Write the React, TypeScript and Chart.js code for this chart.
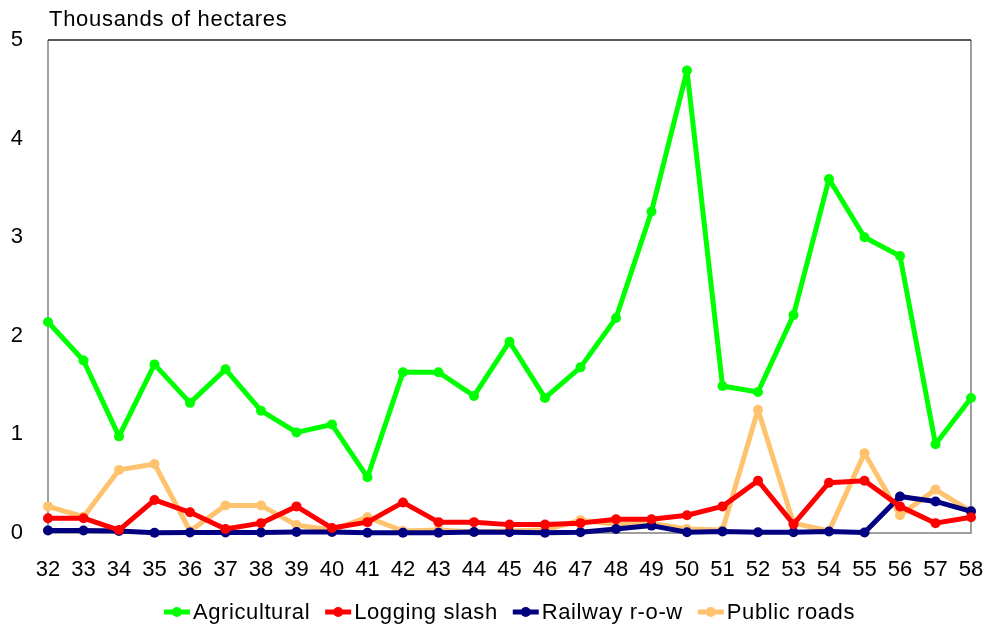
import React, { useEffect, useRef } from "react";
import { Chart, registerables } from "chart.js";

Chart.register(...registerables);

const years = ["32","33","34","35","36","37","38","39","40","41","42","43","44","45","46","47","48","49","50","51","52","53","54","55","56","57","58"];
const agricultural = [2.14,1.75,0.98,1.71,1.32,1.66,1.24,1.02,1.10,0.565,1.63,1.63,1.39,1.94,1.37,1.68,2.18,3.26,4.69,1.49,1.43,2.21,3.59,3.00,2.81,0.90,1.37];
const loggingSlash = [0.15,0.15,0.03,0.335,0.21,0.04,0.10,0.27,0.05,0.11,0.31,0.11,0.11,0.085,0.085,0.10,0.14,0.14,0.18,0.27,0.53,0.09,0.51,0.53,0.27,0.10,0.16];
const railway = [0.025,0.025,0.02,0.003,0.005,0.005,0.005,0.01,0.01,0.003,0.003,0.003,0.01,0.008,0.003,0.008,0.04,0.075,0.008,0.015,0.008,0.008,0.015,0.005,0.37,0.32,0.22];
const publicRoads = [0.27,0.165,0.64,0.70,0.02,0.28,0.28,0.08,0.03,0.16,0.02,0.03,0.01,0.02,0.03,0.13,0.09,0.10,0.04,0.03,1.25,0.10,0.02,0.81,0.18,0.44,0.22];
const yTicks = [0, 1, 2, 3, 4, 5];
const titleText = "Thousands of hectares";

const seriesNames = ["Agricultural", "Logging slash", "Railway r-o-w", "Public roads"];
const seriesColors = ["#00FF00", "#FF0000", "#000080", "#FFC370"];
const seriesData = [agricultural, loggingSlash, railway, publicRoads];

const FONT = "Arial, 'Liberation Sans', Helvetica, sans-serif";

const framePlugin = {
  id: "frameAndExtras",
  beforeDatasetsDraw(chart: any) {
    const { ctx, chartArea } = chart;
    const { left, right, top, bottom } = chartArea;
    ctx.save();
    ctx.lineWidth = 1.5;
    ctx.strokeStyle = "#808080";
    ctx.beginPath();
    ctx.moveTo(left, top);
    ctx.lineTo(left, bottom);
    ctx.lineTo(right, bottom);
    ctx.lineTo(right, top);
    ctx.stroke();
    ctx.strokeStyle = "#222222";
    ctx.beginPath();
    ctx.moveTo(left, top);
    ctx.lineTo(right, top);
    ctx.stroke();
    ctx.restore();
  },
  afterDraw(chart: any) {
    const { ctx, chartArea } = chart;
    ctx.save();
    ctx.font = `22px ${FONT}`;
    try { (ctx as any).letterSpacing = "0.7px"; } catch (e) {}
    ctx.fillStyle = "#000";
    ctx.textBaseline = "middle";
    ctx.textAlign = "left";
    ctx.fillText(titleText, chartArea.left + 1, 20);

    // legend
    try { (ctx as any).letterSpacing = "0.6px"; } catch (e) {}
    const lineLen = 26;
    const gapText = 3;
    const gapItem = 15;
    const widths = seriesNames.map((n) => lineLen + gapText + ctx.measureText(n).width);
    const total = widths.reduce((a, b) => a + b, 0) + gapItem * (seriesNames.length - 1);
    let x = (chartArea.left + chartArea.right) / 2 - total / 2;
    const y = 612;
    seriesNames.forEach((n, i) => {
      ctx.strokeStyle = seriesColors[i];
      ctx.fillStyle = seriesColors[i];
      ctx.lineWidth = 5;
      ctx.beginPath();
      ctx.moveTo(x, y);
      ctx.lineTo(x + lineLen, y);
      ctx.stroke();
      ctx.beginPath();
      ctx.arc(x + lineLen / 2, y, 5, 0, Math.PI * 2);
      ctx.fill();
      ctx.fillStyle = "#000";
      ctx.fillText(n, x + lineLen + gapText, y + 1);
      x += widths[i] + gapItem;
    });
    ctx.restore();
  },
};

export default function App() {
  const ref = useRef<HTMLCanvasElement | null>(null);
  useEffect(() => {
    if (!ref.current) return;
    const chart = new Chart(ref.current, {
      type: "line",
      data: {
        labels: years,
        datasets: seriesNames.map((name, i) => ({
          label: name,
          data: seriesData[i],
          borderColor: seriesColors[i],
          backgroundColor: seriesColors[i],
          borderWidth: 5,
          borderJoinStyle: "round" as any,
          borderCapStyle: "round" as any,
          pointRadius: 5,
          pointBorderWidth: 0,
          pointBackgroundColor: seriesColors[i],
          tension: 0,
          clip: false as any,
        })),
      },
      options: {
        responsive: false,
        animation: false,
        layout: { padding: { left: 0, right: 16, top: 40, bottom: 36 } },
        plugins: {
          legend: { display: false },
          title: { display: false },
          tooltip: { enabled: false },
        },
        scales: {
          x: {
            type: "category",
            offset: false,
            grid: { display: false, drawTicks: false },
            border: { display: false },
            ticks: {
              color: "#000",
              padding: 24,
              maxRotation: 0,
              autoSkip: false,
              font: { size: 22, family: FONT },
            },
            afterFit: (s: any) => {
              s.height = 60;
              s.paddingLeft = 0;
              s.paddingRight = 0;
            },
          },
          y: {
            min: 0,
            max: 5,
            afterBuildTicks: (s: any) => {
              s.ticks = yTicks.map((v) => ({ value: v }));
            },
            grid: { display: false, drawTicks: false },
            border: { display: false },
            ticks: {
              color: "#000",
              padding: 25,
              font: { size: 22, family: FONT },
            },
            afterFit: (s: any) => {
              s.width = 48;
            },
          },
        },
      },
      plugins: [framePlugin],
    });
    return () => chart.destroy();
  }, []);
  return (
    <div style={{ position: "absolute", left: 0, top: 0, width: 987, height: 629, background: "#fff" }}>
      <canvas ref={ref} width={987} height={629} style={{ display: "block" }} />
    </div>
  );
}
